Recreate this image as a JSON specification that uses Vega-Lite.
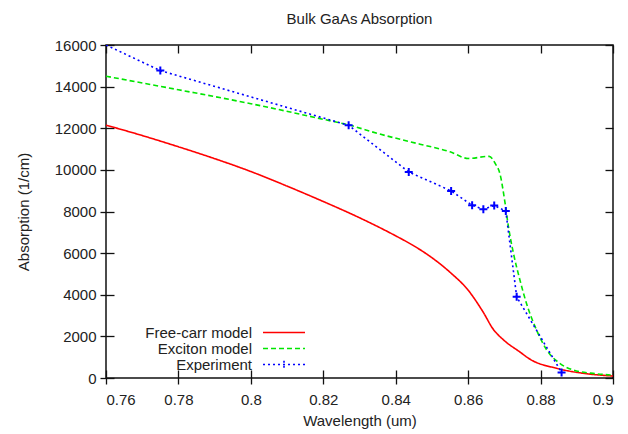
{
  "$schema": "https://vega.github.io/schema/vega-lite/v6.json",
  "width": 507,
  "height": 333,
  "autosize": {"type": "none"},
  "padding": {"left": 106, "top": 45, "right": 15, "bottom": 56},
  "title": {"text": "Bulk GaAs Absorption", "fontSize": 15, "fontWeight": "normal", "font": "Liberation Sans", "color": "#222", "offset": -1, "baseline": "alphabetic"},
  "config": {
    "view": {"stroke": "#111", "strokeWidth": 1.5},
    "axis": {"labelFont": "Liberation Sans", "labelFontSize": 15, "labelColor": "#222", "titleFont": "Liberation Sans", "titleFontSize": 15, "titleFontWeight": "normal", "titleColor": "#222", "tickColor": "#111", "tickWidth": 1.3, "grid": false, "domain": false},
    "legend": {"labelFont": "Liberation Sans", "labelFontSize": 15, "labelColor": "#222", "padding": 0, "rowPadding": 0, "symbolSize": 196, "symbolStrokeWidth": 1.6}
  },
  "data": {"values": [
    {"series": "Free-carr model", "wl": 0.76, "abs": 12150},
    {"series": "Free-carr model", "wl": 0.77, "abs": 11650},
    {"series": "Free-carr model", "wl": 0.78, "abs": 11110},
    {"series": "Free-carr model", "wl": 0.79, "abs": 10540},
    {"series": "Free-carr model", "wl": 0.80, "abs": 9920},
    {"series": "Free-carr model", "wl": 0.81, "abs": 9220},
    {"series": "Free-carr model", "wl": 0.82, "abs": 8480},
    {"series": "Free-carr model", "wl": 0.83, "abs": 7700},
    {"series": "Free-carr model", "wl": 0.84, "abs": 6830},
    {"series": "Free-carr model", "wl": 0.845, "abs": 6350},
    {"series": "Free-carr model", "wl": 0.85, "abs": 5780},
    {"series": "Free-carr model", "wl": 0.855, "abs": 5080},
    {"series": "Free-carr model", "wl": 0.86, "abs": 4220},
    {"series": "Free-carr model", "wl": 0.8642, "abs": 3150},
    {"series": "Free-carr model", "wl": 0.8669, "abs": 2350},
    {"series": "Free-carr model", "wl": 0.8697, "abs": 1840},
    {"series": "Free-carr model", "wl": 0.8743, "abs": 1250},
    {"series": "Free-carr model", "wl": 0.8771, "abs": 900},
    {"series": "Free-carr model", "wl": 0.8844, "abs": 466},
    {"series": "Free-carr model", "wl": 0.8918, "abs": 226},
    {"series": "Free-carr model", "wl": 0.9, "abs": 96},
    {"series": "Exciton model", "wl": 0.76, "abs": 14500},
    {"series": "Exciton model", "wl": 0.78, "abs": 13850},
    {"series": "Exciton model", "wl": 0.80, "abs": 13180},
    {"series": "Exciton model", "wl": 0.82, "abs": 12430},
    {"series": "Exciton model", "wl": 0.827, "abs": 12160},
    {"series": "Exciton model", "wl": 0.835, "abs": 11750},
    {"series": "Exciton model", "wl": 0.8467, "abs": 11235},
    {"series": "Exciton model", "wl": 0.855, "abs": 10870},
    {"series": "Exciton model", "wl": 0.86, "abs": 10550},
    {"series": "Exciton model", "wl": 0.8658, "abs": 10650},
    {"series": "Exciton model", "wl": 0.8675, "abs": 10300},
    {"series": "Exciton model", "wl": 0.8688, "abs": 9800},
    {"series": "Exciton model", "wl": 0.8702, "abs": 8400},
    {"series": "Exciton model", "wl": 0.8711, "abs": 7300},
    {"series": "Exciton model", "wl": 0.8725, "abs": 6000},
    {"series": "Exciton model", "wl": 0.8743, "abs": 4710},
    {"series": "Exciton model", "wl": 0.8761, "abs": 3590},
    {"series": "Exciton model", "wl": 0.8789, "abs": 2300},
    {"series": "Exciton model", "wl": 0.8817, "abs": 1345},
    {"series": "Exciton model", "wl": 0.8853, "abs": 706},
    {"series": "Exciton model", "wl": 0.889, "abs": 384},
    {"series": "Exciton model", "wl": 0.895, "abs": 210},
    {"series": "Exciton model", "wl": 0.9, "abs": 140},
    {"series": "Experiment", "wl": 0.76, "abs": 16000},
    {"series": "Experiment", "wl": 0.775, "abs": 14770},
    {"series": "Experiment", "wl": 0.827, "abs": 12140},
    {"series": "Experiment", "wl": 0.8436, "abs": 9900},
    {"series": "Experiment", "wl": 0.8553, "abs": 8990},
    {"series": "Experiment", "wl": 0.8611, "abs": 8300},
    {"series": "Experiment", "wl": 0.8642, "abs": 8110},
    {"series": "Experiment", "wl": 0.8672, "abs": 8290},
    {"series": "Experiment", "wl": 0.8704, "abs": 8020},
    {"series": "Experiment", "wl": 0.8734, "abs": 3900},
    {"series": "Experiment", "wl": 0.8858, "abs": 270}
  ]},
  "layer": [
    {
      "transform": [{"filter": "datum.series === 'Free-carr model'"}],
      "mark": {"type": "line", "strokeWidth": 1.6, "clip": true, "interpolate": "monotone"},
      "encoding": {
        "x": {"field": "wl", "type": "quantitative", "scale": {"domain": [0.76, 0.9], "nice": false, "zero": false},
          "axis": {"orient": "bottom", "offset": -8, "tickSize": 14, "labelPadding": 8, "values": [0.76, 0.78, 0.8, 0.82, 0.84, 0.86, 0.88, 0.9], "format": ".2~f", "title": "Wavelength (um)", "titlePadding": 6}},
        "y": {"field": "abs", "type": "quantitative", "scale": {"domain": [0, 16000], "nice": false},
          "axis": {"orient": "left", "offset": -8, "tickSize": 14, "labelPadding": 4, "values": [0, 2000, 4000, 6000, 8000, 10000, 12000, 14000, 16000], "format": "d", "title": "Absorption (1/cm)", "titlePadding": 23}},
        "color": {"field": "series", "type": "nominal", "scale": {"domain": ["Free-carr model", "Exciton model", "Experiment"], "range": ["#ff0000", "#00e600", "#0000ff"]}, "title": null,
          "legend": {"orient": "none", "legendX": 170, "legendY": 279.5, "direction": "vertical",
            "encode": {
              "labels": {"update": {"x": {"value": -24}, "align": {"value": "right"}}},
              "symbols": {"update": {"shape": {"signal": "datum.value === 'Experiment' ? 'M-3,0H3M0,-0.55V0.55' : 'M-3,0H3'"}}}
            }}},
        "strokeDash": {"field": "series", "type": "nominal", "scale": {"domain": ["Free-carr model", "Exciton model", "Experiment"], "range": [[1, 0], [5, 3], [2, 3]]}, "title": null}
      }
    },
    {
      "transform": [{"filter": "datum.series === 'Exciton model'"}],
      "mark": {"type": "line", "strokeWidth": 1.6, "clip": true, "interpolate": "monotone"},
      "encoding": {
        "x": {"field": "wl", "type": "quantitative", "axis": {"orient": "top", "offset": -8, "tickSize": 8, "labels": false, "title": null, "values": [0.76, 0.78, 0.8, 0.82, 0.84, 0.86, 0.88, 0.9]}},
        "y": {"field": "abs", "type": "quantitative", "axis": {"orient": "right", "offset": -8, "tickSize": 8, "labels": false, "title": null, "values": [0, 2000, 4000, 6000, 8000, 10000, 12000, 14000, 16000]}},
        "color": {"field": "series", "type": "nominal"},
        "strokeDash": {"field": "series", "type": "nominal"}
      }
    },
    {
      "transform": [{"filter": "datum.series === 'Experiment'"}],
      "mark": {"type": "line", "strokeWidth": 1.6, "clip": true},
      "encoding": {
        "x": {"field": "wl", "type": "quantitative", "axis": null},
        "y": {"field": "abs", "type": "quantitative", "axis": null},
        "color": {"field": "series", "type": "nominal"},
        "strokeDash": {"field": "series", "type": "nominal"}
      }
    },
    {
      "transform": [{"filter": "datum.series === 'Experiment' && datum.wl > 0.761"}],
      "mark": {"type": "point", "shape": "M-1,0H1M0,-1V1", "size": 64, "filled": false, "strokeWidth": 2, "opacity": 1, "color": "#0000ff", "clip": true},
      "encoding": {
        "x": {"field": "wl", "type": "quantitative", "axis": null},
        "y": {"field": "abs", "type": "quantitative", "axis": null}
      }
    }
  ],
  "resolve": {"axis": {"x": "independent", "y": "independent"}}
}
